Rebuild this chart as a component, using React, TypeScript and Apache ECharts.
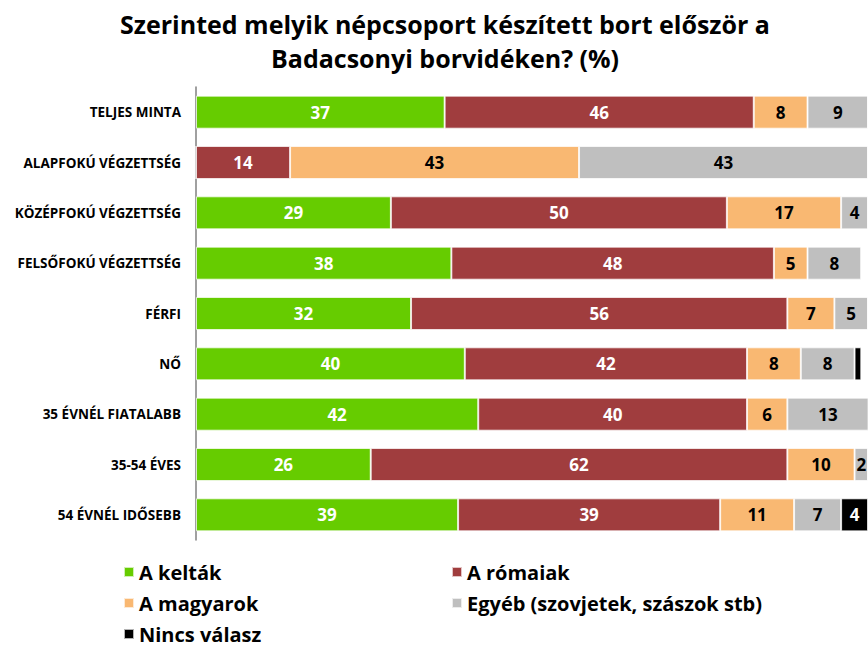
import React, { useEffect, useRef } from "react";
import * as echarts from "echarts";

const categories = [
  "TELJES MINTA",
  "ALAPFOKÚ VÉGZETTSÉG",
  "KÖZÉPFOKÚ VÉGZETTSÉG",
  "FELSŐFOKÚ VÉGZETTSÉG",
  "FÉRFI",
  "NŐ",
  "35 ÉVNÉL FIATALABB",
  "35-54 ÉVES",
  "54 ÉVNÉL IDŐSEBB",
];

const keltak = [37, 0, 29, 38, 32, 40, 42, 26, 39];
const romaiak = [46, 14, 50, 48, 56, 42, 40, 62, 39];
const magyarok = [8, 43, 17, 5, 7, 8, 6, 10, 11];
const egyeb = [9, 43, 4, 8, 5, 8, 13, 2, 7];
const nincs = [0, 0, 0, 0, 0, 1, 0, 0, 4];

const titleLines = [
  "Szerinted melyik népcsoport készített bort először a",
  "Badacsonyi borvidéken? (%)",
];

const seriesNames = [
  "A kelták",
  "A rómaiak",
  "A magyarok",
  "Egyéb (szovjetek, szászok stb)",
  "Nincs válasz",
];
const seriesData = [keltak, romaiak, magyarok, egyeb, nincs];
const colors = ["#66CC00", "#A03D3E", "#F9B872", "#BFBFBF", "#000000"];
const labelColors = ["#ffffff", "#ffffff", "#000000", "#000000", "#ffffff"];

const FONT = "'Open Sans', Lato, sans-serif";

export default function App() {
  const ref = useRef<HTMLDivElement>(null);
  useEffect(() => {
    if (!ref.current) return;
    const chart = echarts.init(ref.current, null, { renderer: "svg" });
    const legendPos = [
      { left: 123, top: 562 },
      { left: 451, top: 562 },
      { left: 123, top: 593 },
      { left: 451, top: 593 },
      { left: 123, top: 624 },
    ];
    chart.setOption({
      animation: false,
      backgroundColor: "#ffffff",
      graphic: titleLines.map((t, i) => ({
        type: "text",
        x: 445,
        y: 24 + i * 34,
        style: {
          text: t,
          textAlign: "center",
          textVerticalAlign: "middle",
          font: `bold 25px ${FONT}`,
          fill: "#000",
        },
      })),
      legend: seriesNames.map((n, i) => ({
        data: [n],
        left: legendPos[i].left,
        top: legendPos[i].top,
        padding: 0,
        icon: "rect",
        itemWidth: 10,
        itemHeight: 10,
        itemGap: 0,
        textStyle: {
          fontFamily: FONT,
          fontWeight: "bold",
          fontSize: 20,
          color: "#000",
          padding: [0, 0, 0, 0],
        },
      })),
      grid: { left: 196, top: 87, width: 672, height: 453, containLabel: false },
      xAxis: {
        type: "value",
        min: 0,
        max: 100,
        show: false,
      },
      yAxis: {
        type: "category",
        data: categories,
        inverse: true,
        axisLine: { show: true, lineStyle: { color: "#808080", width: 1.5 } },
        axisTick: { show: false },
        axisLabel: {
          margin: 15,
          fontFamily: FONT,
          fontWeight: "bold",
          fontSize: 13.5,
          color: "#000",
        },
      },
      series: seriesNames.map((n, i) => ({
        name: n,
        type: "bar",
        stack: "total",
        barWidth: 33,
        data: seriesData[i],
        itemStyle: {
          color: colors[i],
          borderColor: "rgba(255,255,255,0.7)",
          borderWidth: 1,
        },
        label: {
          show: true,
          position: "inside",
          formatter: (p: any) => (p.value >= 2 ? String(p.value) : ""),
          color: labelColors[i],
          fontFamily: FONT,
          fontWeight: "bold",
          fontSize: 17,
        },
      })),
    });
    return () => chart.dispose();
  }, []);
  return (
    <div
      ref={ref}
      style={{ position: "absolute", left: 0, top: 0, width: 868, height: 648, overflow: "hidden" }}
    />
  );
}
